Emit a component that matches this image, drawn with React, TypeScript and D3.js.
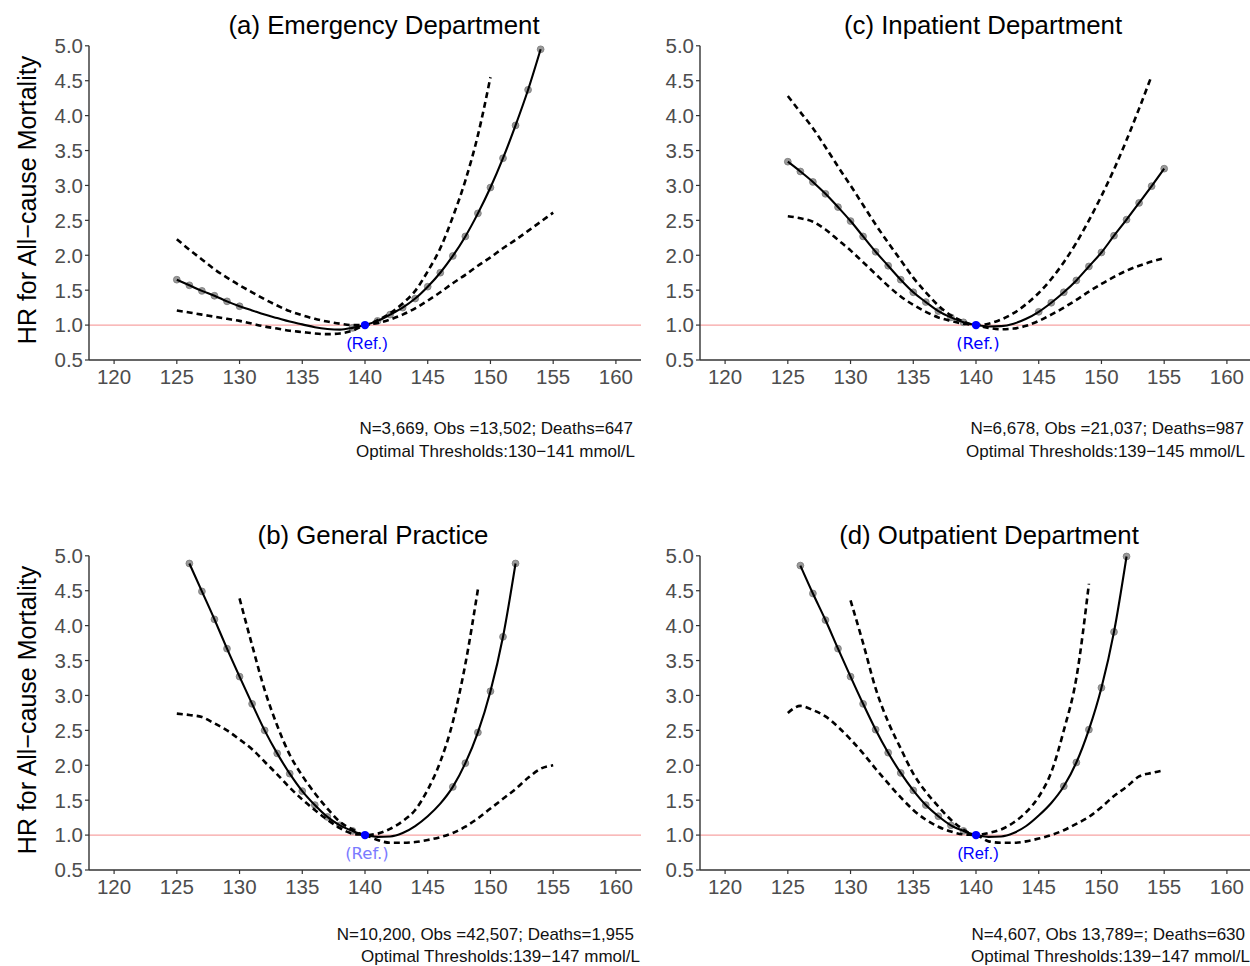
import React from 'react'
import * as d3 from 'd3'

// serum sodium (mmol/L) at which the spline was evaluated
const sodium = [125, 126, 127, 128, 129, 130, 131, 132, 133, 134, 135, 136, 137, 138, 139, 140,
  141, 142, 143, 144, 145, 146, 147, 148, 149, 150, 151, 152, 153, 154, 155]

const xTicks = [120, 125, 130, 135, 140, 145, 150, 155, 160]
const yTicks = [0.5, 1.0, 1.5, 2.0, 2.5, 3.0, 3.5, 4.0, 4.5, 5.0]

// (a) Emergency Department
const edHR = [1.65, 1.57, 1.49, 1.42, 1.34, 1.27, 1.21, 1.15, 1.10, 1.05, 1.01, 0.97, 0.945, 0.935, 0.96, 1.0,
  1.06, 1.15, 1.25, 1.38, 1.55, 1.75, 1.99, 2.27, 2.60, 2.97, 3.39, 3.86, 4.37, 4.95, null]
const edUpper = [2.23, 2.08, 1.94, 1.80, 1.68, 1.57, 1.47, 1.37, 1.28, 1.20, 1.14, 1.09, 1.05, 1.02, 1.0, 1.0,
  1.07, 1.17, 1.31, 1.49, 1.77, 2.10, 2.55, 3.07, 3.72, 4.55, null, null, null, null, null]
const edLower = [1.21, 1.18, 1.15, 1.12, 1.09, 1.06, 1.02, 0.98, 0.95, 0.92, 0.90, 0.88, 0.87, 0.88, 0.92, 1.0,
  1.03, 1.08, 1.15, 1.24, 1.35, 1.47, 1.60, 1.72, 1.85, 1.97, 2.10, 2.22, 2.35, 2.48, 2.61]
const edPoints = [125, 126, 127, 128, 129, 130, 139, 141, 142, 143, 144, 145, 146, 147, 148, 149, 150, 151, 152, 153, 154]

// (c) Inpatient Department
const ipHR = [3.34, 3.20, 3.05, 2.88, 2.69, 2.49, 2.27, 2.05, 1.85, 1.65, 1.47, 1.33, 1.20, 1.11, 1.04, 1.0,
  0.98, 0.985, 1.02, 1.09, 1.19, 1.32, 1.47, 1.64, 1.84, 2.04, 2.28, 2.51, 2.75, 2.99, 3.24]
const ipUpper = [4.28, 4.05, 3.82, 3.55, 3.27, 3.00, 2.72, 2.44, 2.18, 1.93, 1.68, 1.47, 1.28, 1.14, 1.05, 1.0,
  1.02, 1.08, 1.17, 1.30, 1.46, 1.66, 1.90, 2.18, 2.50, 2.85, 3.23, 3.65, 4.10, 4.57, null]
const ipLower = [2.56, 2.53, 2.48, 2.37, 2.22, 2.07, 1.90, 1.73, 1.56, 1.41, 1.29, 1.19, 1.11, 1.06, 1.02, 1.0,
  0.96, 0.94, 0.95, 0.99, 1.06, 1.15, 1.25, 1.36, 1.48, 1.59, 1.69, 1.78, 1.85, 1.91, 1.96]
const ipPoints = [125, 126, 127, 128, 129, 130, 131, 132, 133, 134, 135, 136, 137, 138, 139,
  145, 146, 147, 148, 149, 150, 151, 152, 153, 154, 155]

// (b) General Practice
const gpHR = [null, 4.89, 4.49, 4.09, 3.67, 3.27, 2.88, 2.50, 2.17, 1.88, 1.63, 1.43, 1.26, 1.14, 1.06, 1.0,
  0.975, 0.98, 1.03, 1.13, 1.27, 1.45, 1.69, 2.03, 2.47, 3.06, 3.84, 4.89, null, null, null]
const gpUpper = [null, null, null, null, null, 4.39, 3.72, 3.08, 2.57, 2.15, 1.85, 1.60, 1.38, 1.19, 1.08, 1.0,
  1.02, 1.09, 1.20, 1.36, 1.65, 2.05, 2.62, 3.45, 4.52, null, null, null, null, null, null]
const gpLower = [2.74, 2.72, 2.69, 2.60, 2.50, 2.37, 2.23, 2.05, 1.87, 1.68, 1.51, 1.36, 1.22, 1.10, 1.02, 1.0,
  0.93, 0.89, 0.89, 0.90, 0.93, 0.97, 1.03, 1.12, 1.24, 1.38, 1.52, 1.66, 1.82, 1.95, 2.00]
const gpPoints = [126, 127, 128, 129, 130, 131, 132, 133, 134, 135, 136, 137, 138, 139,
  147, 148, 149, 150, 151, 152]

// (d) Outpatient Department
const opHR = [null, 4.86, 4.46, 4.08, 3.67, 3.27, 2.88, 2.51, 2.18, 1.89, 1.64, 1.43, 1.27, 1.14, 1.06, 1.0,
  0.975, 0.98, 1.03, 1.13, 1.28, 1.46, 1.70, 2.04, 2.51, 3.11, 3.91, 4.99, null, null, null]
const opUpper = [null, null, null, null, null, 4.36, 3.75, 3.10, 2.62, 2.24, 1.88, 1.62, 1.41, 1.22, 1.08, 1.0,
  1.03, 1.08, 1.18, 1.33, 1.55, 1.90, 2.50, 3.25, 4.60, null, null, null, null, null, null]
const opLower = [2.75, 2.85, 2.79, 2.70, 2.55, 2.37, 2.17, 1.95, 1.74, 1.54, 1.36, 1.22, 1.12, 1.05, 1.01, 1.0,
  0.91, 0.89, 0.89, 0.91, 0.95, 1.00, 1.07, 1.16, 1.26, 1.40, 1.56, 1.69, 1.84, 1.89, 1.93]
const opPoints = [126, 127, 128, 129, 130, 131, 132, 133, 134, 135, 136, 137, 138, 139,
  147, 148, 149, 150, 151, 152]

const refX = 140
const refHR = 1.0

const notes = {
  a: ['N=3,669, Obs =13,502; Deaths=647', 'Optimal Thresholds:130\u2212141 mmol/L'],
  c: ['N=6,678, Obs =21,037; Deaths=987', 'Optimal Thresholds:139\u2212145 mmol/L'],
  b: ['N=10,200, Obs =42,507; Deaths=1,955', 'Optimal Thresholds:139\u2212147 mmol/L'],
  d: ['N=4,607, Obs 13,789=; Deaths=630', 'Optimal Thresholds:139\u2212147 mmol/L'],
}

const panels = [
  { id: 'a', title: '(a) Emergency Department', hr: edHR, upper: edUpper, lower: edLower, points: edPoints,
    col: 0, row: 0, titleX: 384, noteShift: [0, 2], refColor: '#0000ff', refFont: 'Liberation Sans, Arial, sans-serif' },
  { id: 'c', title: '(c) Inpatient Department', hr: ipHR, upper: ipUpper, lower: ipLower, points: ipPoints,
    col: 1, row: 0, titleX: 983, noteShift: [0, 1], refColor: '#0000ff', refFont: 'DejaVu Sans, sans-serif' },
  { id: 'b', title: '(b) General Practice', hr: gpHR, upper: gpUpper, lower: gpLower, points: gpPoints,
    col: 0, row: 1, titleX: 373, noteShift: [1, 7], refColor: '#7b7bff', refFont: 'DejaVu Sans, sans-serif' },
  { id: 'd', title: '(d) Outpatient Department', hr: opHR, upper: opUpper, lower: opLower, points: opPoints,
    col: 1, row: 1, titleX: 989, noteShift: [1, 6], refColor: '#0000ff', refFont: 'Liberation Sans, Arial, sans-serif' },
]

const W = 1250
const H = 966
const colLeft = [89, 700]
const rowOffset = [0, 510]
const noteBase = [[434, 457], [940, 962]]
const plotW = 552
const plotTop = 45.8
const plotBottom = 360
const font = 'Liberation Sans, Arial, Helvetica, sans-serif'

function Panel({ p }) {
  const left = colLeft[p.col]
  const dy = rowOffset[p.row]
  const x = d3.scaleLinear().domain([118, 162]).range([left, left + plotW])
  const y = d3.scaleLinear().domain([0.5, 5.0]).range([dy + plotBottom, dy + plotTop])

  const makeLine = (vals) => d3.line()
    .defined(d => d[1] != null)
    .x(d => x(d[0]))
    .y(d => y(d[1]))
    .curve(d3.curveMonotoneX)(sodium.map((s, i) => [s, vals[i]]))

  const hrAt = (s) => p.hr[sodium.indexOf(s)]
  const axisY = dy + plotBottom
  const noteRight = left + 544

  return (
    <g>
      <text x={p.titleX} y={dy + 34} textAnchor="middle" fontSize={25.8} fontFamily={font} fill="#000">{p.title}</text>

      {/* reference line at HR = 1 */}
      <line x1={left} x2={left + plotW} y1={y(1)} y2={y(1)} stroke="#f7a3a3" strokeWidth={1.2} />

      {/* axes */}
      <line x1={left} x2={left} y1={dy + plotTop} y2={axisY} stroke="#333" strokeWidth={1.4} />
      <line x1={left} x2={left + plotW} y1={axisY} y2={axisY} stroke="#333" strokeWidth={1.4} />
      {yTicks.map(t => (
        <g key={'y' + t}>
          <line x1={left - 4} x2={left} y1={y(t)} y2={y(t)} stroke="#333" strokeWidth={1.2} />
          <text x={left - 6} y={y(t)} dy="0.36em" textAnchor="end" fontSize={20.5} fontFamily={font} fill="#4d4d4d">{t.toFixed(1)}</text>
        </g>
      ))}
      {xTicks.map(t => (
        <g key={'x' + t}>
          <line x1={x(t)} x2={x(t)} y1={axisY} y2={axisY + 4} stroke="#333" strokeWidth={1.2} />
          <text x={x(t)} y={axisY + 24} textAnchor="middle" fontSize={20.5} fontFamily={font} fill="#4d4d4d">{t}</text>
        </g>
      ))}

      {/* observed points */}
      {p.points.map(s => (
        <circle key={'pt' + s} cx={x(s)} cy={y(hrAt(s))} r={3.4} fill="#9a9a9a" stroke="#7a7a7a" strokeWidth={0.8} />
      ))}

      <path d={makeLine(p.upper)} fill="none" stroke="#000" strokeWidth={2.6} strokeDasharray="6 4" />
      <path d={makeLine(p.lower)} fill="none" stroke="#000" strokeWidth={2.6} strokeDasharray="6 4" />
      <path d={makeLine(p.hr)} fill="none" stroke="#000" strokeWidth={2.1} />

      <circle cx={x(refX)} cy={y(refHR)} r={4.2} fill="#0000ff" />
      <text x={x(refX) + 2} y={y(refHR) + 24} textAnchor="middle" fontSize={16.5} fontFamily={p.refFont} fill={p.refColor}>(Ref.)</text>

      <text x={noteRight + p.noteShift[0]} y={noteBase[p.row][0]} textAnchor="end" fontSize={17} fontFamily={font} fill="#111">{notes[p.id][0]}</text>
      <text x={noteRight + p.noteShift[1]} y={noteBase[p.row][1]} textAnchor="end" fontSize={17} fontFamily={font} fill="#111">{notes[p.id][1]}</text>
    </g>
  )
}

export default function App() {
  return (
    <div style={{ position: 'absolute', left: 0, top: 0, width: W, height: H, background: '#fff' }}>
      <svg width={W} height={H} viewBox={`0 0 ${W} ${H}`} style={{ display: 'block' }}>
        <rect width={W} height={H} fill="#fff" />
        {[0, 1].map(r => (
          <text key={'yt' + r} transform={`translate(27,${200 + rowOffset[r]}) rotate(-90)`} textAnchor="middle"
            dominantBaseline="central" fontSize={25} fontFamily={font} fill="#000">HR for All{'\u2212'}cause Mortality</text>
        ))}
        {panels.map(p => <Panel key={p.id} p={p} />)}
      </svg>
    </div>
  )
}
